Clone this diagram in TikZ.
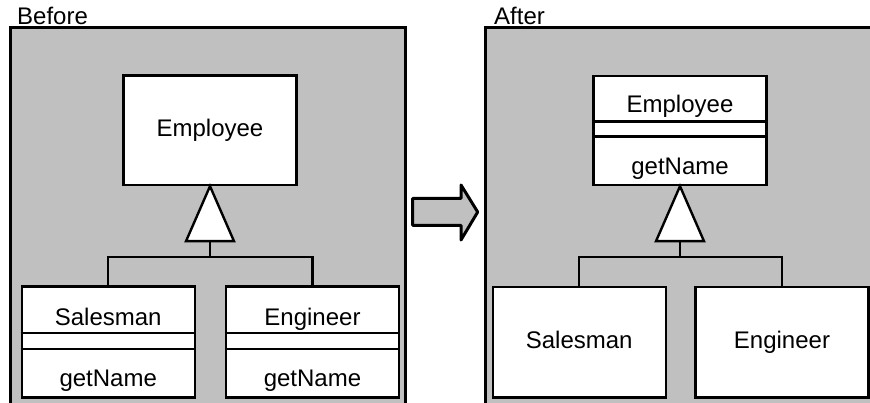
\documentclass[tikz,border=0pt]{standalone}
\usepackage{fontspec}
\setmainfont{Liberation Sans}
\usetikzlibrary{calc}
\definecolor{panelgray}{HTML}{C0C0C0}
\begin{document}
\begin{tikzpicture}[x=1pt,y=-1pt,
  panel/.style={fill=panelgray,draw=black,line width=3pt},
  cls/.style={draw=black,fill=white,line width=2.4pt,minimum width=173pt,inner sep=0pt},
  lbl/.style={font=\fontsize{24}{28}\selectfont,inner sep=0pt,anchor=base},
  title/.style={font=\fontsize{24}{28}\selectfont,inner sep=0pt,anchor=base west},
  link/.style={draw=black,line width=2.4pt},
  tri/.style={draw=black,fill=white,line width=2.4pt,line join=miter},
  bigarrow/.style={draw=black,fill=panelgray,line width=3pt,line join=round}]
\useasboundingbox (0,0) rectangle (870,403);
\clip (0,0) rectangle (870,403);
% panels
\draw[panel] (10,28) rectangle (405,430);
\draw[panel] (485,28) rectangle (900,430);
\node[title] (before) at (17,25) {Before};
\node[title] (after) at (494,25) {After};
% ---------- Before ----------
\node[cls,minimum height=109.3pt] (e1) at (210,130.35) {};
\node[lbl] (e1n) at (210,136.5) {Employee};
\node[cls,minimum height=110.6pt] (s1) at (108.2,342) {};
\node[cls,minimum height=110.6pt] (g1) at (312.5,342) {};
\draw[link] ($(s1.north west)+(0,47.3)$) -- ($(s1.north east)+(0,47.3)$);
\draw[link] ($(s1.north west)+(0,63.3)$) -- ($(s1.north east)+(0,63.3)$);
\draw[link] ($(g1.north west)+(0,47.3)$) -- ($(g1.north east)+(0,47.3)$);
\draw[link] ($(g1.north west)+(0,63.3)$) -- ($(g1.north east)+(0,63.3)$);
\node[lbl] (s1n) at (108.2,325) {Salesman};
\node[lbl] (s1m) at (108.2,386) {getName};
\node[lbl] (g1n) at (312.5,325) {Engineer};
\node[lbl] (g1m) at (312.5,386) {getName};
\draw[tri] (e1.south) -- ++(24,55) coordinate (t1r) -- ++(-48,0) coordinate (t1l) -- cycle;
\coordinate (t1b) at ($(t1l)!0.5!(t1r)$);
\coordinate (j1) at ($(t1b)+(0,16)$);
\draw[link] (t1b) -- (j1);
\draw[link] (s1.north) |- (j1) -| (g1.north);
% ---------- arrow ----------
\draw[bigarrow] (412.7,198.3) -- (461,198.3) -- (461,185) -- (477.7,212) -- (461,240) -- (461,225.3) -- (412.7,225.3) -- cycle;
% ---------- After ----------
\node[cls,minimum height=109pt] (e2) at (680,130.5) {};
\draw[link] ($(e2.north west)+(0,46.7)$) -- ($(e2.north east)+(0,46.7)$);
\draw[link] ($(e2.north west)+(0,61.7)$) -- ($(e2.north east)+(0,61.7)$);
\node[lbl] (e2n) at (680,112.7) {Employee};
\node[lbl] (e2m) at (680,175) {getName};
\node[cls,minimum height=110.3pt] (s2) at (579.2,342.2) {};
\node[cls,minimum height=110.3pt] (g2) at (782,342.2) {};
\node[lbl] (s2n) at (579.2,348.3) {Salesman};
\node[lbl] (g2n) at (782,348.3) {Engineer};
\draw[tri] (e2.south) -- ++(24,55) coordinate (t2r) -- ++(-48,0) coordinate (t2l) -- cycle;
\coordinate (t2b) at ($(t2l)!0.5!(t2r)$);
\coordinate (j2) at ($(t2b)+(0,16)$);
\draw[link] (t2b) -- (j2);
\draw[link] (s2.north) |- (j2) -| (g2.north);
\end{tikzpicture}
\end{document}
